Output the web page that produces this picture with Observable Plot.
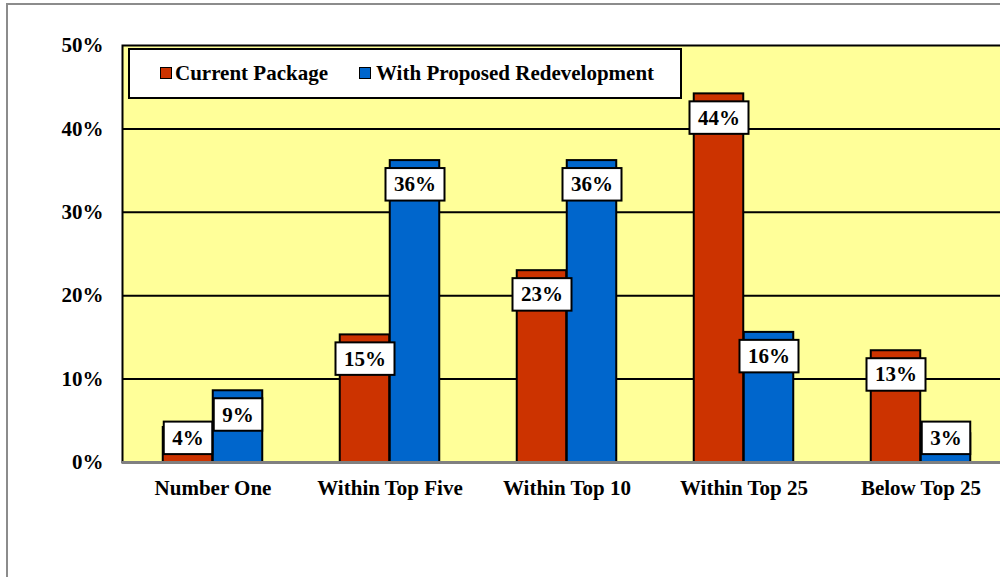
<!DOCTYPE html>
<html><head><meta charset="utf-8">
<script src="https://cdn.jsdelivr.net/npm/d3@7"></script>
<script src="https://cdn.jsdelivr.net/npm/@observablehq/plot@0.6"></script>
<style>
body{margin:0;background:#fff;}
#wrap{position:relative;width:1000px;height:577px;overflow:hidden;font-family:'Liberation Serif';font-weight:bold;background:#fff;}
#wrap svg{position:absolute;left:0;top:0;}
#frame{position:absolute;left:6px;top:3px;width:1100px;height:700px;border-left:2px solid #8c8c8c;border-top:2px solid #8c8c8c;pointer-events:none;}
#legend{position:absolute;left:128px;top:48px;width:554px;height:51px;box-sizing:border-box;border:2px solid #000;background:#fff;font-family:'Liberation Serif';}
.sw{position:absolute;width:12px;height:12px;border:1.5px solid #000;box-sizing:border-box;top:17px;}
.lt{position:absolute;font-family:'Liberation Serif';font-weight:bold;font-size:21px;line-height:21px;white-space:nowrap;color:#000;top:13px;}
</style>
</head><body>
<div id="wrap"></div>
<script>
const categories = ["Number One", "Within Top Five", "Within Top 10", "Within Top 25", "Below Top 25"];
const seriesNames = ["Current Package", "With Proposed Redevelopment"];
const currentPackage = [4.2, 15.3, 23.0, 44.2, 13.4];
const proposedRedevelopment = [8.6, 36.2, 36.2, 15.6, 3.45];
const yTicks = [0, 10, 20, 30, 40, 50];
const gridLines = [10, 20, 30, 40];
const colors = ["#CC3300", "#0066CC"];
const FONT = "'Liberation Serif'";

const rows = [];
categories.forEach((c, i) => {
  rows.push({category: c, series: seriesNames[0], value: currentPackage[i]});
  rows.push({category: c, series: seriesNames[1], value: proposedRedevelopment[i]});
});
const cur = rows.filter(d => d.series === seriesNames[0]);
const pro = rows.filter(d => d.series === seriesNames[1]);

const chart = Plot.plot({
  width: 1000,
  height: 577,
  marginLeft: 122,
  marginRight: -10,
  marginTop: 45,
  marginBottom: 115,
  style: {fontFamily: FONT, fontSize: "21px", fontWeight: "bold", color: "#000", background: "#fff", overflow: "hidden"},
  x: {domain: categories, padding: 0},
  y: {domain: [0, 50]},
  marks: [
    Plot.frame({fill: "#FFFF99", stroke: "none"}),
    Plot.ruleY(gridLines, {stroke: "#000", strokeWidth: 2}),
    Plot.barY(cur, {x: "category", y: "value", fill: colors[0], stroke: "#000", strokeWidth: 2, insetLeft: 38.75, insetRight: 88.75}),
    Plot.barY(pro, {x: "category", y: "value", fill: colors[1], stroke: "#000", strokeWidth: 2, insetLeft: 88.75, insetRight: 38.75}),
    Plot.frame({stroke: "#000", strokeWidth: 2}),
    Plot.ruleY([0], {stroke: "#808080", strokeWidth: 3}),
    Plot.text(cur, {x: "category", y: d => Math.max(d.value, 5.8), text: d => Math.round(d.value) + "%", dx: -25, dy: 24, fill: "#000", fontSize: 21, fontWeight: "bold", fontFamily: FONT}),
    Plot.text(pro, {x: "category", y: d => Math.max(d.value, 5.8), text: d => Math.round(d.value) + "%", dx: 25, dy: 24, fill: "#000", fontSize: 21, fontWeight: "bold", fontFamily: FONT}),
    Plot.axisY({ticks: yTicks, tickFormat: d => d + "%", tickSize: 0, tickPadding: 19, label: null, fontFamily: FONT, fontSize: 21, fontWeight: "bold"}),
    Plot.axisX({tickSize: 0, tickPadding: 18, label: null, fontFamily: FONT, fontSize: 21, fontWeight: "bold"})
  ]
});

const wrap = document.getElementById("wrap");
wrap.appendChild(chart);
chart.querySelectorAll("text").forEach(t => t.style.fontFamily = FONT);

// white label boxes behind the value labels
chart.querySelectorAll('g[aria-label="text"] text').forEach(t => {
  const b = t.getBBox();
  const w = b.width + 17, h = 32.5;
  const cx = b.x + b.width / 2, cy = b.y + b.height / 2;
  const r = document.createElementNS("http://www.w3.org/2000/svg", "rect");
  r.setAttribute("x", cx - w / 2);
  r.setAttribute("y", cy - h / 2);
  r.setAttribute("width", w);
  r.setAttribute("height", h);
  r.setAttribute("fill", "#fff");
  r.setAttribute("stroke", "#000");
  r.setAttribute("stroke-width", 2);
  const tr = t.getAttribute("transform");
  if (tr) r.setAttribute("transform", tr);
  t.parentNode.insertBefore(r, t);
});

// legend
const legend = document.createElement("div");
legend.id = "legend";
const swX = [30, 229], txX = [45, 246];
seriesNames.forEach((s, i) => {
  const sw = document.createElement("div");
  sw.className = "sw";
  sw.style.left = swX[i] + "px";
  sw.style.background = colors[i];
  legend.appendChild(sw);
  const tx = document.createElement("div");
  tx.className = "lt";
  tx.style.left = txX[i] + "px";
  tx.textContent = s;
  legend.appendChild(tx);
});
wrap.appendChild(legend);

const frame = document.createElement("div");
frame.id = "frame";
wrap.appendChild(frame);
</script>
</body></html>
